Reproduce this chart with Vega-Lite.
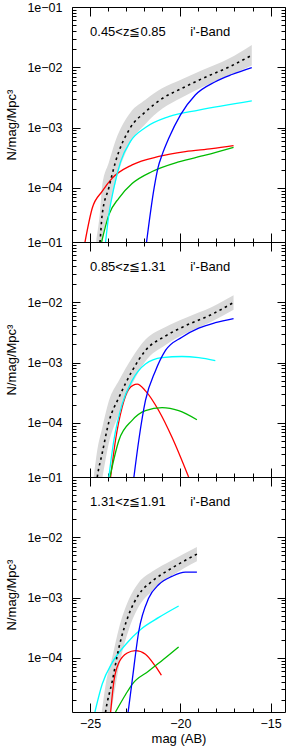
{
  "$schema": "https://vega.github.io/schema/vega-lite/v6.json",
  "padding": {"left": 5, "right": 5, "top": 0, "bottom": 0},
  "autosize": {"type": "pad"},
  "spacing": 0,
  "bounds": "flush",
  "config": {
    "view": {"stroke": "black", "strokeWidth": 1},
    "font": "Liberation Sans",
    "axis": {"domain": false, "grid": false, "tickColor": "black", "tickWidth": 1, "labelColor": "black", "labelFont": "Liberation Sans", "labelFontSize": 12.5, "titleFont": "Liberation Sans", "titleFontSize": 13, "titleFontWeight": "normal", "titleColor": "black"}
  },
  "datasets": {
    "median": [
      {"panel":1,"mag":-24.65,"n":3.981e-6,"lo":1.122e-6,"hi":1.413e-5},
      {"panel":1,"mag":-24.45,"n":1.259e-5,"lo":3.981e-6,"hi":3.981e-5},
      {"panel":1,"mag":-24.33,"n":3.548e-5,"lo":1.175e-5,"hi":1.072e-4},
      {"panel":1,"mag":-23.96,"n":1.0e-4,"lo":3.802e-5,"hi":2.630e-4},
      {"panel":1,"mag":-23.59,"n":2.692e-4,"lo":1.202e-4,"hi":6.026e-4},
      {"panel":1,"mag":-22.76,"n":1.0e-3,"lo":5.623e-4,"hi":1.778e-3},
      {"panel":1,"mag":-21.93,"n":1.820e-3,"lo":1.148e-3,"hi":2.884e-3},
      {"panel":1,"mag":-21.01,"n":3.020e-3,"lo":2.042e-3,"hi":4.467e-3},
      {"panel":1,"mag":-19.91,"n":4.467e-3,"lo":3.162e-3,"hi":6.310e-3},
      {"panel":1,"mag":-18.8,"n":6.457e-3,"lo":4.677e-3,"hi":8.913e-3},
      {"panel":1,"mag":-17.33,"n":1.0e-2,"lo":7.244e-3,"hi":1.380e-2},
      {"panel":1,"mag":-16.04,"n":1.585e-2,"lo":1.072e-2,"hi":2.344e-2},
      {"panel":2,"mag":-24.8,"n":3.981e-6,"lo":1.259e-6,"hi":1.259e-5},
      {"panel":2,"mag":-24.6,"n":1.259e-5,"lo":4.467e-6,"hi":3.548e-5},
      {"panel":2,"mag":-24.33,"n":3.090e-5,"lo":1.175e-5,"hi":8.128e-5},
      {"panel":2,"mag":-23.96,"n":1.023e-4,"lo":4.571e-5,"hi":2.291e-4},
      {"panel":2,"mag":-23.4,"n":2.630e-4,"lo":1.380e-4,"hi":5.012e-4},
      {"panel":2,"mag":-22.67,"n":7.244e-4,"lo":4.365e-4,"hi":1.202e-3},
      {"panel":2,"mag":-21.93,"n":1.585e-3,"lo":1.047e-3,"hi":2.399e-3},
      {"panel":2,"mag":-20.82,"n":2.754e-3,"lo":1.950e-3,"hi":3.890e-3},
      {"panel":2,"mag":-19.72,"n":4.074e-3,"lo":3.020e-3,"hi":5.495e-3},
      {"panel":2,"mag":-18.25,"n":6.310e-3,"lo":4.786e-3,"hi":8.318e-3},
      {"panel":2,"mag":-17.05,"n":9.886e-3,"lo":7.50e-3,"hi":1.303e-2},
      {"panel":3,"mag":-24.35,"n":3.981e-6,"lo":1.259e-6,"hi":1.259e-5},
      {"panel":3,"mag":-24.14,"n":1.259e-5,"lo":4.467e-6,"hi":3.548e-5},
      {"panel":3,"mag":-23.77,"n":4.074e-5,"lo":1.622e-5,"hi":1.023e-4},
      {"panel":3,"mag":-23.4,"n":1.479e-4,"lo":7.079e-5,"hi":3.090e-4},
      {"panel":3,"mag":-22.85,"n":5.248e-4,"lo":2.951e-4,"hi":9.333e-4},
      {"panel":3,"mag":-22.3,"n":1.122e-3,"lo":7.079e-4,"hi":1.778e-3},
      {"panel":3,"mag":-21.56,"n":1.862e-3,"lo":1.288e-3,"hi":2.692e-3},
      {"panel":3,"mag":-20.46,"n":3.090e-3,"lo":2.291e-3,"hi":4.169e-3},
      {"panel":3,"mag":-19.08,"n":5.248e-3,"lo":3.981e-3,"hi":6.918e-3}
    ],
    "model": [
      {"panel":1,"comp":"cyan","mag":-24.14,"n":1.259e-5},
      {"panel":1,"comp":"cyan","mag":-23.96,"n":3.548e-5},
      {"panel":1,"comp":"cyan","mag":-23.68,"n":1.0e-4},
      {"panel":1,"comp":"cyan","mag":-23.31,"n":2.692e-4},
      {"panel":1,"comp":"cyan","mag":-22.76,"n":5.888e-4},
      {"panel":1,"comp":"cyan","mag":-21.93,"n":1.0e-3},
      {"panel":1,"comp":"cyan","mag":-20.64,"n":1.514e-3},
      {"panel":1,"comp":"cyan","mag":-18.98,"n":1.950e-3},
      {"panel":1,"comp":"cyan","mag":-16.04,"n":2.78e-3},
      {"panel":1,"comp":"blue","mag":-21.87,"n":1.259e-5},
      {"panel":1,"comp":"blue","mag":-21.45,"n":1.0e-4},
      {"panel":1,"comp":"blue","mag":-21.23,"n":2.188e-4},
      {"panel":1,"comp":"blue","mag":-21.01,"n":3.51e-4},
      {"panel":1,"comp":"blue","mag":-20.64,"n":6.607e-4},
      {"panel":1,"comp":"blue","mag":-19.99,"n":1.622e-3},
      {"panel":1,"comp":"blue","mag":-19.17,"n":3.467e-3},
      {"panel":1,"comp":"blue","mag":-18.06,"n":5.754e-3},
      {"panel":1,"comp":"blue","mag":-17.14,"n":7.586e-3},
      {"panel":1,"comp":"blue","mag":-16.04,"n":9.89e-3},
      {"panel":1,"comp":"red","mag":-25.28,"n":1.259e-5},
      {"panel":1,"comp":"red","mag":-24.88,"n":4.571e-5},
      {"panel":1,"comp":"red","mag":-24.33,"n":8.710e-5},
      {"panel":1,"comp":"red","mag":-23.77,"n":1.445e-4},
      {"panel":1,"comp":"red","mag":-22.67,"n":2.399e-4},
      {"panel":1,"comp":"red","mag":-21.19,"n":3.311e-4},
      {"panel":1,"comp":"red","mag":-19.72,"n":3.981e-4},
      {"panel":1,"comp":"red","mag":-18.25,"n":4.467e-4},
      {"panel":1,"comp":"red","mag":-17.05,"n":5.012e-4},
      {"panel":1,"comp":"green","mag":-24.36,"n":1.259e-5},
      {"panel":1,"comp":"green","mag":-23.96,"n":3.548e-5},
      {"panel":1,"comp":"green","mag":-23.4,"n":6.761e-5},
      {"panel":1,"comp":"green","mag":-22.67,"n":1.175e-4},
      {"panel":1,"comp":"green","mag":-21.56,"n":1.862e-4},
      {"panel":1,"comp":"green","mag":-20.09,"n":2.692e-4},
      {"panel":1,"comp":"green","mag":-18.61,"n":3.467e-4},
      {"panel":1,"comp":"green","mag":-17.05,"n":4.677e-4},
      {"panel":2,"comp":"cyan","mag":-23.96,"n":1.259e-5},
      {"panel":2,"comp":"cyan","mag":-23.68,"n":5.129e-5},
      {"panel":2,"comp":"cyan","mag":-23.22,"n":2.042e-4},
      {"panel":2,"comp":"cyan","mag":-22.67,"n":5.012e-4},
      {"panel":2,"comp":"cyan","mag":-21.93,"n":9.44e-4},
      {"panel":2,"comp":"cyan","mag":-21.01,"n":1.202e-3},
      {"panel":2,"comp":"cyan","mag":-19.91,"n":1.259e-3},
      {"panel":2,"comp":"cyan","mag":-18.98,"n":1.202e-3},
      {"panel":2,"comp":"cyan","mag":-18.06,"n":1.072e-3},
      {"panel":2,"comp":"red","mag":-23.86,"n":1.259e-5},
      {"panel":2,"comp":"red","mag":-23.59,"n":5.129e-5},
      {"panel":2,"comp":"red","mag":-23.22,"n":1.820e-4},
      {"panel":2,"comp":"red","mag":-22.85,"n":3.631e-4},
      {"panel":2,"comp":"red","mag":-22.39,"n":4.365e-4},
      {"panel":2,"comp":"red","mag":-21.93,"n":3.388e-4},
      {"panel":2,"comp":"red","mag":-21.19,"n":1.585e-4},
      {"panel":2,"comp":"red","mag":-20.46,"n":5.754e-5},
      {"panel":2,"comp":"red","mag":-19.54,"n":1.259e-5},
      {"panel":2,"comp":"green","mag":-23.9,"n":1.259e-5},
      {"panel":2,"comp":"green","mag":-23.4,"n":5.129e-5},
      {"panel":2,"comp":"green","mag":-22.67,"n":1.096e-4},
      {"panel":2,"comp":"green","mag":-21.93,"n":1.585e-4},
      {"panel":2,"comp":"green","mag":-21.01,"n":1.778e-4},
      {"panel":2,"comp":"green","mag":-20.09,"n":1.585e-4},
      {"panel":2,"comp":"green","mag":-19.08,"n":1.122e-4},
      {"panel":2,"comp":"blue","mag":-22.57,"n":1.259e-5},
      {"panel":2,"comp":"blue","mag":-22.3,"n":5.129e-5},
      {"panel":2,"comp":"blue","mag":-21.93,"n":2.344e-4},
      {"panel":2,"comp":"blue","mag":-21.38,"n":7.244e-4},
      {"panel":2,"comp":"blue","mag":-20.82,"n":1.585e-3},
      {"panel":2,"comp":"blue","mag":-19.91,"n":2.630e-3},
      {"panel":2,"comp":"blue","mag":-18.98,"n":3.715e-3},
      {"panel":2,"comp":"blue","mag":-18.06,"n":4.571e-3},
      {"panel":2,"comp":"blue","mag":-17.05,"n":5.370e-3},
      {"panel":3,"comp":"cyan","mag":-24.73,"n":1.259e-5},
      {"panel":3,"comp":"cyan","mag":-24.33,"n":3.631e-5},
      {"panel":3,"comp":"cyan","mag":-23.77,"n":8.318e-5},
      {"panel":3,"comp":"cyan","mag":-23.03,"n":1.660e-4},
      {"panel":3,"comp":"cyan","mag":-22.2,"n":2.951e-4},
      {"panel":3,"comp":"cyan","mag":-21.19,"n":4.677e-4},
      {"panel":3,"comp":"cyan","mag":-20.09,"n":7.244e-4},
      {"panel":3,"comp":"red","mag":-23.86,"n":1.259e-5},
      {"panel":3,"comp":"red","mag":-23.68,"n":4.074e-5},
      {"panel":3,"comp":"red","mag":-23.4,"n":8.318e-5},
      {"panel":3,"comp":"red","mag":-22.94,"n":1.202e-4},
      {"panel":3,"comp":"red","mag":-22.48,"n":1.318e-4},
      {"panel":3,"comp":"red","mag":-21.93,"n":1.148e-4},
      {"panel":3,"comp":"red","mag":-21.38,"n":7.244e-5},
      {"panel":3,"comp":"red","mag":-21.05,"n":5.129e-5},
      {"panel":3,"comp":"green","mag":-23.59,"n":1.259e-5},
      {"panel":3,"comp":"green","mag":-23.03,"n":2.455e-5},
      {"panel":3,"comp":"green","mag":-22.67,"n":3.631e-5},
      {"panel":3,"comp":"green","mag":-21.75,"n":6.026e-5},
      {"panel":3,"comp":"green","mag":-20.82,"n":1.0e-4},
      {"panel":3,"comp":"green","mag":-20.09,"n":1.514e-4},
      {"panel":3,"comp":"blue","mag":-22.89,"n":1.259e-5},
      {"panel":3,"comp":"blue","mag":-22.67,"n":4.074e-5},
      {"panel":3,"comp":"blue","mag":-22.3,"n":2.754e-4},
      {"panel":3,"comp":"blue","mag":-21.75,"n":9.772e-4},
      {"panel":3,"comp":"blue","mag":-21.19,"n":1.641e-3},
      {"panel":3,"comp":"blue","mag":-20.46,"n":2.239e-3},
      {"panel":3,"comp":"blue","mag":-19.72,"n":2.630e-3},
      {"panel":3,"comp":"blue","mag":-19.08,"n":2.630e-3}
    ],
    "labels": [
      {"panel":1,"zr":"0.45<z≦0.85","band":"i'-Band"},
      {"panel":2,"zr":"0.85<z≦1.31","band":"i'-Band"},
      {"panel":3,"zr":"1.31<z≦1.91","band":"i'-Band"}
    ]
  },
  "vconcat": [
    {
      "width": 213, "height": 235,
      "resolve": {"axis": {"x": "independent", "y": "independent"}},
      "layer": [
        {"data": {"name": "median"}, "transform": [{"filter": "datum.panel == 1"}],
         "mark": {"type": "area", "color": "#d9d9d9", "clip": true, "interpolate": "monotone"},
         "encoding": {
           "x": {"field": "mag", "type": "quantitative", "scale": {"domain": [-26, -14.2], "nice": false, "zero": false},
                 "axis": {"orient": "bottom", "values": [-25, -20, -15], "tickSize": -9, "labels": false, "title": null}},
           "y": {"field": "lo", "type": "quantitative", "scale": {"type": "log", "domain": [1.2589e-5, 0.1], "nice": false},
                 "axis": {"orient": "left", "values": [0.1, 0.01, 0.001, 0.0001], "tickSize": -8, "labelPadding": 18, "title": "N/mag/Mpc³", "titlePadding": 8,
                          "labelExpr": "datum.value > 0.05 ? '1e−01' : datum.value > 0.005 ? '1e−02' : datum.value > 0.0005 ? '1e−03' : '1e−04'"}},
           "y2": {"field": "hi"}
         }},
        {"data": {"name": "model"}, "transform": [{"filter": "datum.panel == 1 && datum.comp == 'red'"}],
         "mark": {"type": "line", "color": "#ff0000", "strokeWidth": 1.3, "clip": true, "interpolate": "monotone"},
         "encoding": {
           "x": {"field": "mag", "type": "quantitative", "axis": {"orient": "bottom", "values": [-24, -23, -22, -21, -19, -18, -17, -16], "tickSize": -4, "labels": false, "title": null}},
           "y": {"field": "n", "type": "quantitative", "axis": {"orient": "left", "values": [2e-5,3e-5,4e-5,5e-5,6e-5,7e-5,8e-5,9e-5,2e-4,3e-4,4e-4,5e-4,6e-4,7e-4,8e-4,9e-4,2e-3,3e-3,4e-3,5e-3,6e-3,7e-3,8e-3,9e-3,2e-2,3e-2,4e-2,5e-2,6e-2,7e-2,8e-2,9e-2], "tickSize": -4, "labels": false, "title": null}}
         }},
        {"data": {"name": "model"}, "transform": [{"filter": "datum.panel == 1 && datum.comp == 'green'"}],
         "mark": {"type": "line", "color": "#00bb00", "strokeWidth": 1.3, "clip": true, "interpolate": "monotone"},
         "encoding": {
           "x": {"field": "mag", "type": "quantitative", "axis": {"orient": "top", "values": [-25, -20, -15], "tickSize": -9, "labels": false, "title": null}},
           "y": {"field": "n", "type": "quantitative", "axis": {"orient": "right", "values": [0.1, 0.01, 0.001, 0.0001], "tickSize": -8, "labels": false, "title": null}}
         }},
        {"data": {"name": "model"}, "transform": [{"filter": "datum.panel == 1 && datum.comp == 'cyan'"}],
         "mark": {"type": "line", "color": "#00ffff", "strokeWidth": 1.3, "clip": true, "interpolate": "monotone"},
         "encoding": {
           "x": {"field": "mag", "type": "quantitative", "axis": {"orient": "top", "values": [-24, -23, -22, -21, -19, -18, -17, -16], "tickSize": -4, "labels": false, "title": null}},
           "y": {"field": "n", "type": "quantitative", "axis": {"orient": "right", "values": [2e-5,3e-5,4e-5,5e-5,6e-5,7e-5,8e-5,9e-5,2e-4,3e-4,4e-4,5e-4,6e-4,7e-4,8e-4,9e-4,2e-3,3e-3,4e-3,5e-3,6e-3,7e-3,8e-3,9e-3,2e-2,3e-2,4e-2,5e-2,6e-2,7e-2,8e-2,9e-2], "tickSize": -4, "labels": false, "title": null}}
         }},
        {"data": {"name": "model"}, "transform": [{"filter": "datum.panel == 1 && datum.comp == 'blue'"}],
         "mark": {"type": "line", "color": "#0000ff", "strokeWidth": 1.3, "clip": true, "interpolate": "monotone"},
         "encoding": {
           "x": {"field": "mag", "type": "quantitative", "axis": null},
           "y": {"field": "n", "type": "quantitative", "axis": null}
         }},
        {"data": {"name": "median"}, "transform": [{"filter": "datum.panel == 1"}],
         "mark": {"type": "line", "color": "black", "strokeWidth": 1.6, "strokeDash": [2.5, 3.5], "clip": true, "interpolate": "monotone"},
         "encoding": {
           "x": {"field": "mag", "type": "quantitative", "axis": null},
           "y": {"field": "n", "type": "quantitative", "axis": null}
         }},
        {"data": {"name": "labels"}, "transform": [{"filter": "datum.panel == 1"}],
         "mark": {"type": "text", "align": "left", "baseline": "middle", "fontSize": 13, "color": "black"},
         "encoding": {
           "x": {"datum": -25, "type": "quantitative", "axis": null},
           "y": {"datum": 0.0385, "type": "quantitative", "axis": null},
           "text": {"field": "zr"}
         }},
        {"data": {"name": "labels"}, "transform": [{"filter": "datum.panel == 1"}],
         "mark": {"type": "text", "align": "left", "baseline": "middle", "fontSize": 13, "color": "black"},
         "encoding": {
           "x": {"datum": -19.45, "type": "quantitative", "axis": null},
           "y": {"datum": 0.0385, "type": "quantitative", "axis": null},
           "text": {"field": "band"}
         }}
      ]
    },
    {
      "width": 213, "height": 235,
      "resolve": {"axis": {"x": "independent", "y": "independent"}},
      "layer": [
        {"data": {"name": "median"}, "transform": [{"filter": "datum.panel == 2"}],
         "mark": {"type": "area", "color": "#d9d9d9", "clip": true, "interpolate": "monotone"},
         "encoding": {
           "x": {"field": "mag", "type": "quantitative", "scale": {"domain": [-26, -14.2], "nice": false, "zero": false},
                 "axis": {"orient": "bottom", "values": [-25, -20, -15], "tickSize": -9, "labels": false, "title": null}},
           "y": {"field": "lo", "type": "quantitative", "scale": {"type": "log", "domain": [1.2589e-5, 0.1], "nice": false},
                 "axis": {"orient": "left", "values": [0.1, 0.01, 0.001, 0.0001], "tickSize": -8, "labelPadding": 18, "title": "N/mag/Mpc³", "titlePadding": 8,
                          "labelExpr": "datum.value > 0.05 ? '1e−01' : datum.value > 0.005 ? '1e−02' : datum.value > 0.0005 ? '1e−03' : '1e−04'"}},
           "y2": {"field": "hi"}
         }},
        {"data": {"name": "model"}, "transform": [{"filter": "datum.panel == 2 && datum.comp == 'red'"}],
         "mark": {"type": "line", "color": "#ff0000", "strokeWidth": 1.3, "clip": true, "interpolate": "monotone"},
         "encoding": {
           "x": {"field": "mag", "type": "quantitative", "axis": {"orient": "bottom", "values": [-24, -23, -22, -21, -19, -18, -17, -16], "tickSize": -4, "labels": false, "title": null}},
           "y": {"field": "n", "type": "quantitative", "axis": {"orient": "left", "values": [2e-5,3e-5,4e-5,5e-5,6e-5,7e-5,8e-5,9e-5,2e-4,3e-4,4e-4,5e-4,6e-4,7e-4,8e-4,9e-4,2e-3,3e-3,4e-3,5e-3,6e-3,7e-3,8e-3,9e-3,2e-2,3e-2,4e-2,5e-2,6e-2,7e-2,8e-2,9e-2], "tickSize": -4, "labels": false, "title": null}}
         }},
        {"data": {"name": "model"}, "transform": [{"filter": "datum.panel == 2 && datum.comp == 'green'"}],
         "mark": {"type": "line", "color": "#00bb00", "strokeWidth": 1.3, "clip": true, "interpolate": "monotone"},
         "encoding": {
           "x": {"field": "mag", "type": "quantitative", "axis": {"orient": "top", "values": [-25, -20, -15], "tickSize": -9, "labels": false, "title": null}},
           "y": {"field": "n", "type": "quantitative", "axis": {"orient": "right", "values": [0.1, 0.01, 0.001, 0.0001], "tickSize": -8, "labels": false, "title": null}}
         }},
        {"data": {"name": "model"}, "transform": [{"filter": "datum.panel == 2 && datum.comp == 'cyan'"}],
         "mark": {"type": "line", "color": "#00ffff", "strokeWidth": 1.3, "clip": true, "interpolate": "monotone"},
         "encoding": {
           "x": {"field": "mag", "type": "quantitative", "axis": {"orient": "top", "values": [-24, -23, -22, -21, -19, -18, -17, -16], "tickSize": -4, "labels": false, "title": null}},
           "y": {"field": "n", "type": "quantitative", "axis": {"orient": "right", "values": [2e-5,3e-5,4e-5,5e-5,6e-5,7e-5,8e-5,9e-5,2e-4,3e-4,4e-4,5e-4,6e-4,7e-4,8e-4,9e-4,2e-3,3e-3,4e-3,5e-3,6e-3,7e-3,8e-3,9e-3,2e-2,3e-2,4e-2,5e-2,6e-2,7e-2,8e-2,9e-2], "tickSize": -4, "labels": false, "title": null}}
         }},
        {"data": {"name": "model"}, "transform": [{"filter": "datum.panel == 2 && datum.comp == 'blue'"}],
         "mark": {"type": "line", "color": "#0000ff", "strokeWidth": 1.3, "clip": true, "interpolate": "monotone"},
         "encoding": {
           "x": {"field": "mag", "type": "quantitative", "axis": null},
           "y": {"field": "n", "type": "quantitative", "axis": null}
         }},
        {"data": {"name": "median"}, "transform": [{"filter": "datum.panel == 2"}],
         "mark": {"type": "line", "color": "black", "strokeWidth": 1.6, "strokeDash": [2.5, 3.5], "clip": true, "interpolate": "monotone"},
         "encoding": {
           "x": {"field": "mag", "type": "quantitative", "axis": null},
           "y": {"field": "n", "type": "quantitative", "axis": null}
         }},
        {"data": {"name": "labels"}, "transform": [{"filter": "datum.panel == 2"}],
         "mark": {"type": "text", "align": "left", "baseline": "middle", "fontSize": 13, "color": "black"},
         "encoding": {
           "x": {"datum": -25, "type": "quantitative", "axis": null},
           "y": {"datum": 0.0385, "type": "quantitative", "axis": null},
           "text": {"field": "zr"}
         }},
        {"data": {"name": "labels"}, "transform": [{"filter": "datum.panel == 2"}],
         "mark": {"type": "text", "align": "left", "baseline": "middle", "fontSize": 13, "color": "black"},
         "encoding": {
           "x": {"datum": -19.45, "type": "quantitative", "axis": null},
           "y": {"datum": 0.0385, "type": "quantitative", "axis": null},
           "text": {"field": "band"}
         }}
      ]
    },
    {
      "width": 213, "height": 235,
      "resolve": {"axis": {"x": "independent", "y": "independent"}},
      "layer": [
        {"data": {"name": "median"}, "transform": [{"filter": "datum.panel == 3"}],
         "mark": {"type": "area", "color": "#d9d9d9", "clip": true, "interpolate": "monotone"},
         "encoding": {
           "x": {"field": "mag", "type": "quantitative", "scale": {"domain": [-26, -14.2], "nice": false, "zero": false},
                 "axis": {"orient": "bottom", "values": [-25, -20, -15], "tickSize": -9, "labelPadding": 14, "title": "mag (AB)", "titlePadding": 3}},
           "y": {"field": "lo", "type": "quantitative", "scale": {"type": "log", "domain": [1.2589e-5, 0.1], "nice": false},
                 "axis": {"orient": "left", "values": [0.1, 0.01, 0.001, 0.0001], "tickSize": -8, "labelPadding": 18, "title": "N/mag/Mpc³", "titlePadding": 8,
                          "labelExpr": "datum.value > 0.05 ? '1e−01' : datum.value > 0.005 ? '1e−02' : datum.value > 0.0005 ? '1e−03' : '1e−04'"}},
           "y2": {"field": "hi"}
         }},
        {"data": {"name": "model"}, "transform": [{"filter": "datum.panel == 3 && datum.comp == 'red'"}],
         "mark": {"type": "line", "color": "#ff0000", "strokeWidth": 1.3, "clip": true, "interpolate": "monotone"},
         "encoding": {
           "x": {"field": "mag", "type": "quantitative", "axis": {"orient": "bottom", "values": [-24, -23, -22, -21, -19, -18, -17, -16], "tickSize": -4, "labels": false, "title": null}},
           "y": {"field": "n", "type": "quantitative", "axis": {"orient": "left", "values": [2e-5,3e-5,4e-5,5e-5,6e-5,7e-5,8e-5,9e-5,2e-4,3e-4,4e-4,5e-4,6e-4,7e-4,8e-4,9e-4,2e-3,3e-3,4e-3,5e-3,6e-3,7e-3,8e-3,9e-3,2e-2,3e-2,4e-2,5e-2,6e-2,7e-2,8e-2,9e-2], "tickSize": -4, "labels": false, "title": null}}
         }},
        {"data": {"name": "model"}, "transform": [{"filter": "datum.panel == 3 && datum.comp == 'green'"}],
         "mark": {"type": "line", "color": "#00bb00", "strokeWidth": 1.3, "clip": true, "interpolate": "monotone"},
         "encoding": {
           "x": {"field": "mag", "type": "quantitative", "axis": {"orient": "top", "values": [-25, -20, -15], "tickSize": -9, "labels": false, "title": null}},
           "y": {"field": "n", "type": "quantitative", "axis": {"orient": "right", "values": [0.1, 0.01, 0.001, 0.0001], "tickSize": -8, "labels": false, "title": null}}
         }},
        {"data": {"name": "model"}, "transform": [{"filter": "datum.panel == 3 && datum.comp == 'cyan'"}],
         "mark": {"type": "line", "color": "#00ffff", "strokeWidth": 1.3, "clip": true, "interpolate": "monotone"},
         "encoding": {
           "x": {"field": "mag", "type": "quantitative", "axis": {"orient": "top", "values": [-24, -23, -22, -21, -19, -18, -17, -16], "tickSize": -4, "labels": false, "title": null}},
           "y": {"field": "n", "type": "quantitative", "axis": {"orient": "right", "values": [2e-5,3e-5,4e-5,5e-5,6e-5,7e-5,8e-5,9e-5,2e-4,3e-4,4e-4,5e-4,6e-4,7e-4,8e-4,9e-4,2e-3,3e-3,4e-3,5e-3,6e-3,7e-3,8e-3,9e-3,2e-2,3e-2,4e-2,5e-2,6e-2,7e-2,8e-2,9e-2], "tickSize": -4, "labels": false, "title": null}}
         }},
        {"data": {"name": "model"}, "transform": [{"filter": "datum.panel == 3 && datum.comp == 'blue'"}],
         "mark": {"type": "line", "color": "#0000ff", "strokeWidth": 1.3, "clip": true, "interpolate": "monotone"},
         "encoding": {
           "x": {"field": "mag", "type": "quantitative", "axis": null},
           "y": {"field": "n", "type": "quantitative", "axis": null}
         }},
        {"data": {"name": "median"}, "transform": [{"filter": "datum.panel == 3"}],
         "mark": {"type": "line", "color": "black", "strokeWidth": 1.6, "strokeDash": [2.5, 3.5], "clip": true, "interpolate": "monotone"},
         "encoding": {
           "x": {"field": "mag", "type": "quantitative", "axis": null},
           "y": {"field": "n", "type": "quantitative", "axis": null}
         }},
        {"data": {"name": "labels"}, "transform": [{"filter": "datum.panel == 3"}],
         "mark": {"type": "text", "align": "left", "baseline": "middle", "fontSize": 13, "color": "black"},
         "encoding": {
           "x": {"datum": -25, "type": "quantitative", "axis": null},
           "y": {"datum": 0.0385, "type": "quantitative", "axis": null},
           "text": {"field": "zr"}
         }},
        {"data": {"name": "labels"}, "transform": [{"filter": "datum.panel == 3"}],
         "mark": {"type": "text", "align": "left", "baseline": "middle", "fontSize": 13, "color": "black"},
         "encoding": {
           "x": {"datum": -19.45, "type": "quantitative", "axis": null},
           "y": {"datum": 0.0385, "type": "quantitative", "axis": null},
           "text": {"field": "band"}
         }}
      ]
    }
  ]
}
